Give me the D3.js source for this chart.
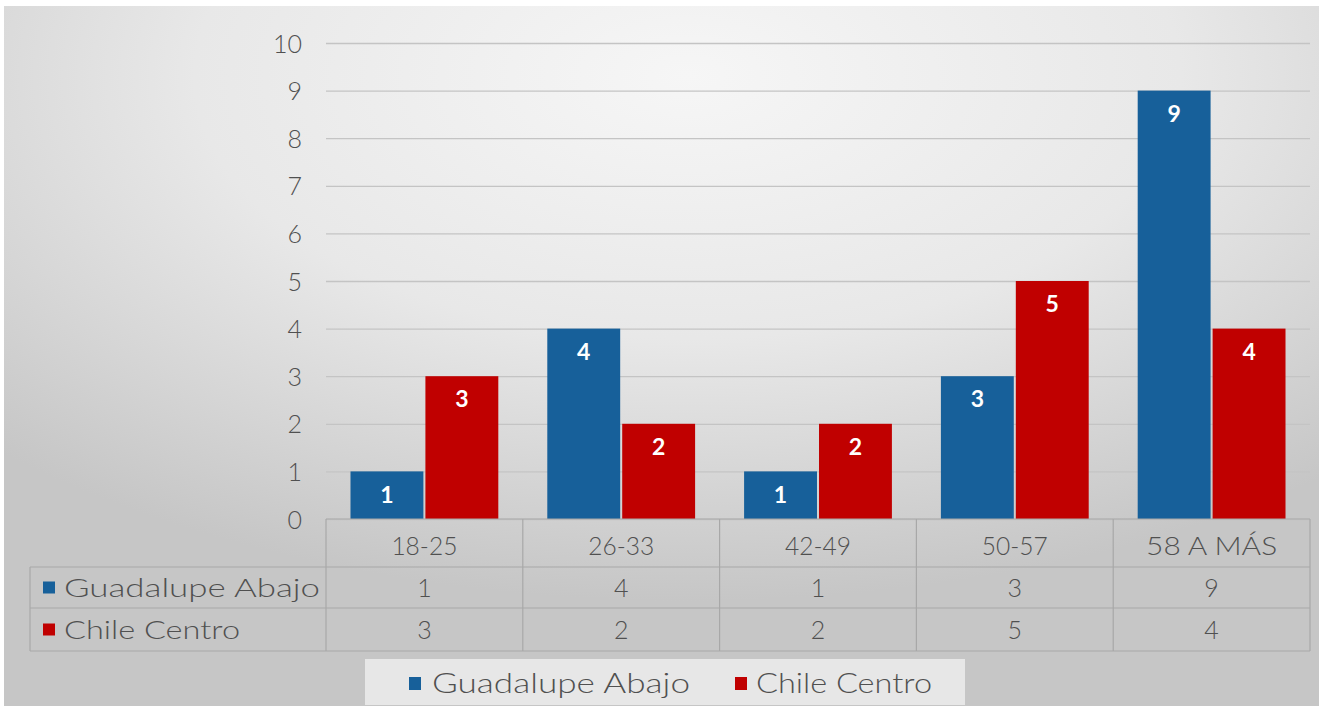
<!DOCTYPE html>
<html><head><meta charset="utf-8">
<script src="https://cdn.jsdelivr.net/npm/d3@7/dist/d3.min.js"></script>
<style>html,body{margin:0;padding:0;background:#fff;}svg{display:block;}</style>
</head><body>
<svg id="c" width="1325" height="711"></svg>
<script>
const categories = ["18-25", "26-33", "42-49", "50-57", "58 A MÁS"];
const seriesNames = ["Guadalupe Abajo", "Chile Centro"];
const guadalupeAbajo = [1, 4, 1, 3, 9];
const chileCentro = [3, 2, 2, 5, 4];
const yTicks = [0, 1, 2, 3, 4, 5, 6, 7, 8, 9, 10];
const colors = ["#17609a", "#c00000"];

(function () {
const seriesValues = [guadalupeAbajo, chileCentro];
const svg = d3.select("#c");
const W = 1325, H = 711;
const font = "'Century Gothic', 'URW Gothic', 'Lato', 'DejaVu Sans', sans-serif";
const fw = 300;
const textCol = "#505050";

const defs = svg.append("defs");
const rg = defs.append("radialGradient").attr("id", "bg")
  .attr("cx", "52%").attr("cy", "10%").attr("r", "75%")
  .attr("gradientUnits", "objectBoundingBox");
rg.append("stop").attr("offset", "0%").attr("stop-color", "#f6f6f6");
rg.append("stop").attr("offset", "50%").attr("stop-color", "#e8e8e8");
rg.append("stop").attr("offset", "100%").attr("stop-color", "#c6c6c6");

svg.append("rect").attr("x", 0).attr("y", 0).attr("width", W).attr("height", H).attr("fill", "#fff");
svg.append("rect").attr("x", 4).attr("y", 6).attr("width", 1315).attr("height", 700).attr("fill", "url(#bg)");

const pl = 326, pr = 1310, pt = 43, pb = 519;
const x = d3.scaleBand().domain(categories).range([pl, pr]).paddingInner(0).paddingOuter(0);
const xs = d3.scaleBand().domain(seriesNames).range([0, x.bandwidth()]).paddingInner(0.027).paddingOuter(0.327);
const y = d3.scaleLinear().domain([0, 10]).range([pb, pt]);

// gridlines
const grid = svg.append("g").attr("transform", `translate(${pl},0)`)
  .call(d3.axisLeft(y).tickValues(yTicks).tickSize(-(pr - pl)).tickFormat(""));
grid.select(".domain").remove();
grid.selectAll("line").attr("stroke", "#c4c4c4").attr("stroke-width", 1.3);

// y labels
const yAx = svg.append("g").attr("transform", `translate(${pl - 24},0)`)
  .call(d3.axisLeft(y).tickValues(yTicks).tickSize(0).tickPadding(0));
yAx.select(".domain").remove();
yAx.selectAll("text").attr("font-family", font).attr("font-weight", fw).attr("font-size", 25).attr("fill", textCol).attr("dy", "0.36em");

// bars
seriesNames.forEach((s, si) => {
  const g = svg.append("g");
  g.selectAll("rect").data(categories).join("rect")
    .attr("x", d => x(d) + xs(s))
    .attr("y", (d, i) => y(seriesValues[si][i]))
    .attr("width", xs.bandwidth())
    .attr("height", (d, i) => y(0) - y(seriesValues[si][i]))
    .attr("fill", colors[si]);
  g.selectAll("text").data(categories).join("text")
    .attr("x", d => x(d) + xs(s) + xs.bandwidth() / 2)
    .attr("y", (d, i) => y(seriesValues[si][i]) + 23)
    .attr("dy", "0.36em")
    .attr("text-anchor", "middle")
    .attr("font-family", "'Lato', 'DejaVu Sans', sans-serif").attr("font-weight", "bold")
    .attr("font-size", 23).attr("fill", "#fff")
    .text((d, i) => seriesValues[si][i]);
});

// data table
const tblLeft = 30;
const rows = [519, 567, 608, 651];
const lineCol = "#a8a8a8";
const tg = svg.append("g").attr("stroke", lineCol).attr("stroke-width", 1.2).attr("fill", "none");
tg.append("line").attr("x1", pl).attr("x2", pr).attr("y1", rows[0]).attr("y2", rows[0]);
[1, 2, 3].forEach(r => tg.append("line").attr("x1", tblLeft).attr("x2", pr).attr("y1", rows[r]).attr("y2", rows[r]));
tg.append("line").attr("x1", tblLeft).attr("x2", tblLeft).attr("y1", rows[1]).attr("y2", rows[3]);
categories.forEach(c => tg.append("line").attr("x1", x(c)).attr("x2", x(c)).attr("y1", rows[0]).attr("y2", rows[3]));
tg.append("line").attr("x1", pr).attr("x2", pr).attr("y1", rows[0]).attr("y2", rows[3]);

const hdrLen = [66, 66, 66, 66, 131];
svg.append("g").selectAll("text").data(categories).join("text")
  .attr("x", d => x(d) + x.bandwidth() / 2).attr("y", (rows[0] + rows[1]) / 2 + 3)
  .attr("dy", "0.36em").attr("text-anchor", "middle")
  .attr("font-family", font).attr("font-weight", fw).attr("font-size", 25).attr("fill", textCol)
  .attr("textLength", (d, i) => hdrLen[i]).attr("lengthAdjust", "spacingAndGlyphs")
  .text(d => d);

const rowLen = [256, 176];
seriesNames.forEach((s, si) => {
  const cy = (rows[si + 1] + rows[si + 2]) / 2;
  svg.append("rect").attr("x", 43).attr("y", cy - 6).attr("width", 12).attr("height", 12).attr("fill", colors[si]);
  svg.append("text").attr("x", 64).attr("y", cy).attr("dy", "0.36em")
    .attr("font-family", font).attr("font-weight", fw).attr("font-size", 26).attr("fill", textCol)
    .attr("textLength", rowLen[si]).attr("lengthAdjust", "spacingAndGlyphs").text(s);
  svg.append("g").selectAll("text").data(categories).join("text")
    .attr("x", d => x(d) + x.bandwidth() / 2).attr("y", cy)
    .attr("dy", "0.36em").attr("text-anchor", "middle")
    .attr("font-family", font).attr("font-weight", fw).attr("font-size", 25).attr("fill", textCol)
    .text((d, i) => seriesValues[si][i]);
});

// legend
svg.append("rect").attr("x", 365).attr("y", 659).attr("width", 600).attr("height", 46).attr("fill", "#ececec").attr("opacity", 0.85);
const lg = [{ s: seriesNames[0], sx: 409, tx: 432, len: 258 }, { s: seriesNames[1], sx: 735, tx: 756, len: 176 }];
lg.forEach((d, i) => {
  svg.append("rect").attr("x", d.sx).attr("y", 677).attr("width", 12).attr("height", 13).attr("fill", colors[i]);
  svg.append("text").attr("x", d.tx).attr("y", 683).attr("dy", "0.36em")
    .attr("font-family", font).attr("font-weight", fw).attr("font-size", 27).attr("fill", textCol)
    .attr("textLength", d.len).attr("lengthAdjust", "spacingAndGlyphs").text(d.s);
});
})();
</script>
</body></html>
